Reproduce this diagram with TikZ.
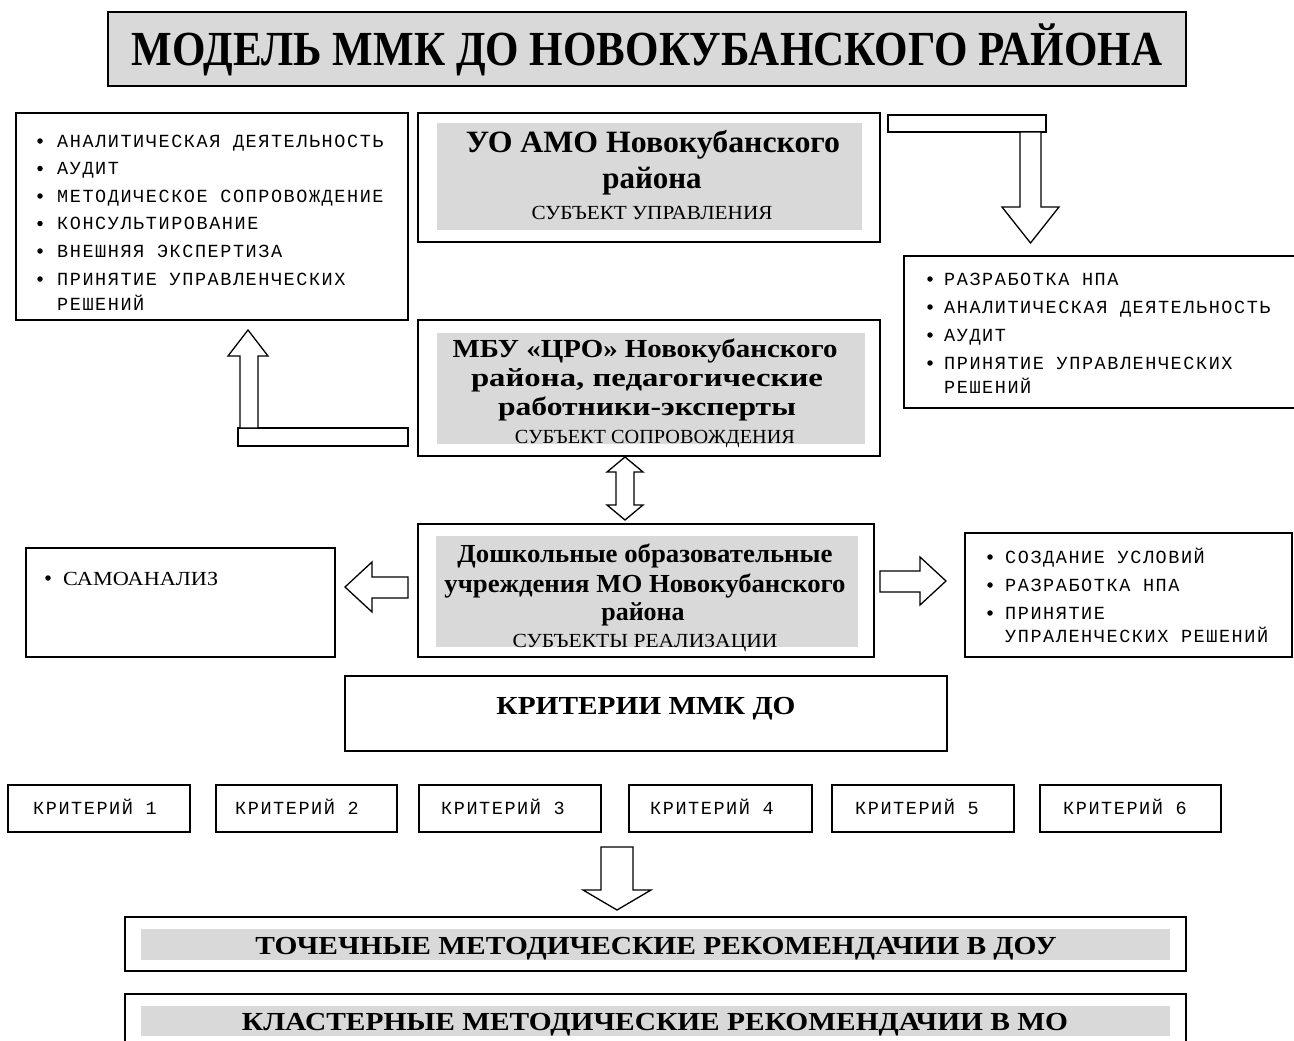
\documentclass[tikz,border=0pt]{standalone}
\usepackage{fontspec}
\setmainfont{Liberation Serif}
\newfontfamily\monofnt[LetterSpace=8.5]{Liberation Mono}
\usepackage{graphicx}
\usetikzlibrary{fit}
\newcommand{\fw}[2]{\resizebox{#1}{\height}{#2}}
\definecolor{boxgray}{HTML}{D9D9D9}
\begin{document}
\begin{tikzpicture}[x=1pt,y=-1pt,
  outer/.style={draw, line width=1.7pt, inner sep=0pt, fill=white},
  grayin/.style={fill=boxgray, draw=none, inner sep=0pt},
  thinbox/.style={draw, line width=1.4pt, inner sep=0pt, fill=white},
  barrow/.style={draw, line width=1.3pt, fill=white, line join=miter},
  txt/.style={inner sep=0pt, anchor=base},
  monotxt/.style={inner sep=0pt, anchor=base west, font=\monofnt\fontsize{18.5}{20}\selectfont},
  bul/.style={circle, fill=black, draw=none, inner sep=0pt, minimum size=5.5pt},
  bigb/.style={txt, font=\fontsize{49}{50}\selectfont\bfseries},
  headb/.style={txt, font=\fontsize{31}{32}\selectfont\bfseries},
  midb/.style={txt, font=\fontsize{26}{28}\selectfont\bfseries},
  subj/.style={txt, font=\fontsize{20}{22}\selectfont},
]
\useasboundingbox (0,0) rectangle (1294,1041);

% ---------- title ----------
\node[outer, fill=boxgray, fit={(108,12) (1186,86)}] (title) {};
\node[bigb] (titletxt) at (647,66) {\fw{1030pt}{МОДЕЛЬ ММК ДО НОВОКУБАНСКОГО РАЙОНА}};

% ---------- left list A ----------
\node[outer, fit={(16,113) (408,320)}] (listA) {};
\foreach \n/\yy/\t in {1/141/АНАЛИТИЧЕСКАЯ ДЕЯТЕЛЬНОСТЬ, 2/168.5/АУДИТ, 3/196/МЕТОДИЧЕСКОЕ СОПРОВОЖДЕНИЕ, 4/223.5/КОНСУЛЬТИРОВАНИЕ, 5/251/ВНЕШНЯЯ ЭКСПЕРТИЗА, 6/279/ПРИНЯТИЕ УПРАВЛЕНЧЕСКИХ} {
  \node[bul] (Ab\n) at (40,\yy) {};
  \node[monotxt] (At\n) at (57,\yy+6) {\t};
}
\node[monotxt] (At7) at (57,310) {РЕШЕНИЙ};

% ---------- UO box ----------
\node[outer, fit={(418,113) (880,242)}] (uo) {};
\node[grayin, fit={(437,123) (862,230)}] (uoin) {};
\node[headb] (uo1) at (653,153) {\fw{374pt}{УО АМО Новокубанского}};
\node[headb] (uo2) at (652,188) {района};
\node[subj] (uo3) at (652,219) {\fw{241pt}{СУБЪЕКТ УПРАВЛЕНИЯ}};

% ---------- top right bent arrow ----------
\node[thinbox, fit={(888,115) (1046,132)}] (barR) {};
\draw[barrow] (1020,132) -- (1041,132) -- (1041,207) -- (1059,207) -- (1030.5,243) -- (1002,207) -- (1020,207) -- cycle;

% ---------- right list B ----------
\node[outer, fit={(904,256) (1297,408)}] (listB) {};
\foreach \n/\yy/\t in {1/279/РАЗРАБОТКА НПА, 2/307/АНАЛИТИЧЕСКАЯ ДЕЯТЕЛЬНОСТЬ, 3/335/АУДИТ, 4/363/ПРИНЯТИЕ УПРАВЛЕНЧЕСКИХ} {
  \node[bul] (Bb\n) at (930,\yy) {};
  \node[monotxt] (Bt\n) at (944,\yy+6) {\t};
}
\node[monotxt] (Bt5) at (944,393) {РЕШЕНИЙ};

% ---------- MBU box ----------
\node[outer, fit={(418,320) (880,456)}] (mbu) {};
\node[grayin, fit={(437,333) (865,444)}] (mbuin) {};
\node[midb] (mbu1) at (645,357) {\fw{385pt}{МБУ «ЦРО» Новокубанского}};
\node[midb] (mbu2) at (647,386) {\fw{352pt}{района, педагогические}};
\node[midb] (mbu3) at (647,415) {\fw{298pt}{работники-эксперты}};
\node[subj] (mbu4) at (655,443) {\fw{280pt}{СУБЪЕКТ СОПРОВОЖДЕНИЯ}};

% ---------- left bent arrow ----------
\node[thinbox, fit={(238,428) (408,446)}] (barL) {};
\draw[barrow] (240,428) -- (240,356) -- (228,356) -- (248,330) -- (268,356) -- (258,356) -- (258,428) -- cycle;

% ---------- double arrow ----------
\draw[barrow] (625,457) -- (643,472) -- (634,472) -- (634,505) -- (643,505) -- (625,520) -- (607,505) -- (616,505) -- (616,472) -- (607,472) -- cycle;

% ---------- DOU box ----------
\node[outer, fit={(418,524) (874,657)}] (dou) {};
\node[grayin, fit={(436,536) (858,647)}] (douin) {};
\node[midb] (dou1) at (645,562) {\fw{375pt}{Дошкольные образовательные}};
\node[midb] (dou2) at (645,592) {\fw{401pt}{учреждения МО Новокубанского}};
\node[midb] (dou3) at (643,620) {района};
\node[subj] (dou4) at (645,647) {\fw{265pt}{СУБЪЕКТЫ РЕАЛИЗАЦИИ}};

% ---------- side arrows ----------
\draw[barrow] (408,577) -- (372,577) -- (372,562) -- (345,587) -- (372,612) -- (372,598) -- (408,598) -- cycle;
\draw[barrow] (880,571) -- (920,571) -- (920,557) -- (946,581) -- (920,605) -- (920,592) -- (880,592) -- cycle;

% ---------- self analysis ----------
\node[outer, fit={(26,548) (335,657)}] (samo) {};
\node[bul] (samob) at (48,578) {};
\node[txt, anchor=base west, font=\fontsize{20}{22}\selectfont] (samot) at (63,585) {\fw{155pt}{САМОАНАЛИЗ}};

% ---------- right list C ----------
\node[outer, fit={(965,533) (1292,657)}] (listC) {};
\foreach \n/\yy/\t in {1/557/СОЗДАНИЕ УСЛОВИЙ, 2/585/РАЗРАБОТКА НПА, 3/613/ПРИНЯТИЕ} {
  \node[bul] (Cb\n) at (990,\yy) {};
  \node[monotxt] (Ct\n) at (1005,\yy+6) {\t};
}
\node[monotxt] (Ct4) at (1005,642) {УПРАЛЕНЧЕСКИХ РЕШЕНИЙ};

% ---------- criteria ----------
\node[outer, fit={(345,676) (947,751)}] (crit) {};
\node[midb] (crittxt) at (646,714) {\fw{299pt}{КРИТЕРИИ ММК ДО}};
\foreach \n/\xa/\xb/\xt in {1/8/190/33, 2/216/397/235, 3/419/601/441, 4/629/812/650, 5/832/1014/855, 6/1040/1221/1063} {
  \node[outer, fit={(\xa,785) (\xb,832)}] (k\n) {};
  \node[monotxt] (kt\n) at (\xt,814) {КРИТЕРИЙ \n};
}

% ---------- down arrow ----------
\draw[barrow] (601,847) -- (633,847) -- (633,890) -- (651,890) -- (617,910) -- (583,890) -- (601,890) -- cycle;

% ---------- recommendations ----------
\node[outer, fit={(125,917) (1186,971)}] (rec1) {};
\node[grayin, fit={(141,929) (1170,960)}] (rec1in) {};
\node[midb] (rec1t) at (656,954) {\fw{801pt}{ТОЧЕЧНЫЕ МЕТОДИЧЕСКИЕ РЕКОМЕНДАЧИИ В ДОУ}};
\node[outer, fit={(125,994) (1186,1050)}] (rec2) {};
\node[grayin, fit={(141,1006) (1170,1036)}] (rec2in) {};
\node[midb] (rec2t) at (655,1030) {\fw{826pt}{КЛАСТЕРНЫЕ МЕТОДИЧЕСКИЕ РЕКОМЕНДАЧИИ В МО}};
\end{tikzpicture}
\end{document}
